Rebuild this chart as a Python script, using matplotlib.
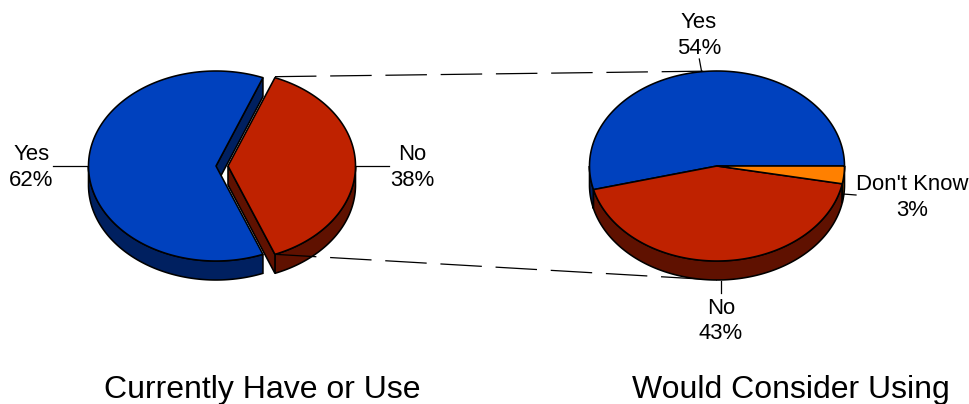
import numpy as np
import matplotlib
matplotlib.use("Agg")
import matplotlib.pyplot as plt

plt.rcParams['font.family'] = ['Liberation Sans', 'DejaVu Sans']

# ---- data ----
left_labels = ["No", "Yes"]
left_values = [38, 62]
right_labels = ["Yes", "No", "Don't Know"]
right_values = [54, 43, 3]
titles = ["Currently Have or Use", "Would Consider Using"]
BLUE, BLUE_D = "#0041BE", "#002060"
RED, RED_D = "#BF2200", "#5F1100"
ORANGE, ORANGE_D = "#FF8000", "#804000"

W, H = 969, 404
RX, RY, DEPTH = 127.5, 95, 19
CY = 166
LW = 1.15

fig = plt.figure(figsize=(W / 100, H / 100), dpi=100)
ax = fig.add_axes([0, 0, 1, 1])
ax.set_xlim(0, W)
ax.set_ylim(H, 0)
ax.axis("off")


def pt(cx, cy, deg):
    t = np.radians(deg)
    return cx + RX * np.cos(t), cy - RY * np.sin(t)


def arc(cx, cy, a, b):
    t = np.radians(np.linspace(a, b, 200))
    return cx + RX * np.cos(t), cy - RY * np.sin(t)


def top(cx, a, b, color, z):
    x, y = arc(cx, CY, a, b)
    ax.fill(np.r_[cx, x], np.r_[CY, y], facecolor=color, edgecolor="black",
            lw=LW, joinstyle="round", zorder=z)


def side(cx, a, b, color, z):
    # outer rim, visible for the front half of the ellipse
    lo, hi = max(a, 180), min(b, 360)
    if hi <= lo:
        return
    x, y = arc(cx, CY, lo, hi)
    ax.fill(np.r_[x, x[::-1]], np.r_[y, y[::-1] + DEPTH], facecolor=color,
            edgecolor="black", lw=LW, zorder=z)


def cut(cx, a, color, z):
    # straight wall below a cut edge
    x, y = pt(cx, CY, a)
    ax.fill([cx, x, x, cx], [CY, y, y + DEPTH, CY + DEPTH], facecolor=color,
            edgecolor="black", lw=LW, zorder=z)


# ---- left pie: the "No" slice is centred on 3 o'clock and pulled out ----
half = left_values[0] / sum(left_values) * 360 / 2
cx_blue, cx_red = 216, 228
cut(cx_blue, half, BLUE_D, 1)
side(cx_blue, half, 360 - half, BLUE_D, 1)
top(cx_blue, half, 360 - half, BLUE, 2)
side(cx_red, 360 - half, 360, RED_D, 3)
cut(cx_red, 360 - half, RED_D, 3)
top(cx_red, -half, half, RED, 4)

# ---- right pie, anticlockwise from 3 o'clock ----
cx_r = 717
cols = [(BLUE, BLUE_D), (RED, RED_D), (ORANGE, ORANGE_D)]
edges = np.cumsum([0] + right_values) / sum(right_values) * 360
for a, b, (c, d) in zip(edges[:-1], edges[1:], cols):
    side(cx_r, a, b, d, 7)
for a, b, (c, d) in zip(edges[:-1], edges[1:], cols):
    top(cx_r, a, b, c, 8)

# ---- dashed connectors between the pies ----
x0, y0 = pt(cx_red, CY, half)
x1, y1 = pt(cx_red, CY, -half)
dash = (0, (33.2, 11))
ax.plot([x0, cx_r], [y0 - 1, CY - RY], color="black", lw=0.9, ls=dash, zorder=5)
ax.plot([x1, cx_r], [y1, CY + RY + DEPTH], color="black", lw=0.9, ls=dash, zorder=5)

# ---- leader lines ----
leaders = [((53, 88), (166, 166)), ((355, 389), (166, 166)),
           ((699.3, 701.5), (59, 71)), ((843, 856), (194, 195)),
           ((721.5, 721.5), (281, 293))]
for xs, ys in leaders:
    ax.plot(xs, ys, color="black", lw=0.9, zorder=6)

# ---- labels ----
FS = 15.9
LS = 1.26
ax.text(31.5, 167.5, f"{left_labels[1]}\n{left_values[1]}%", ha="center", va="center", fontsize=FS, linespacing=LS)
ax.text(412, 167.5, f"{left_labels[0]}\n{left_values[0]}%", ha="center", va="center", fontsize=FS, linespacing=LS)
ax.text(699, 35.5, f"{right_labels[0]}\n{right_values[0]}%", ha="center", va="center", fontsize=FS, linespacing=LS)
ax.text(721, 321, f"{right_labels[1]}\n{right_values[1]}%", ha="center", va="center", fontsize=FS, linespacing=LS)
ax.text(912, 197.5, f"{right_labels[2]}\n{right_values[2]}%", ha="center", va="center", fontsize=FS, linespacing=LS)
ax.text(262, 390, titles[0], ha="center", va="center", fontsize=23)
ax.text(791, 390, titles[1], ha="center", va="center", fontsize=23)

fig.savefig("out.png", dpi=100, facecolor="white")
